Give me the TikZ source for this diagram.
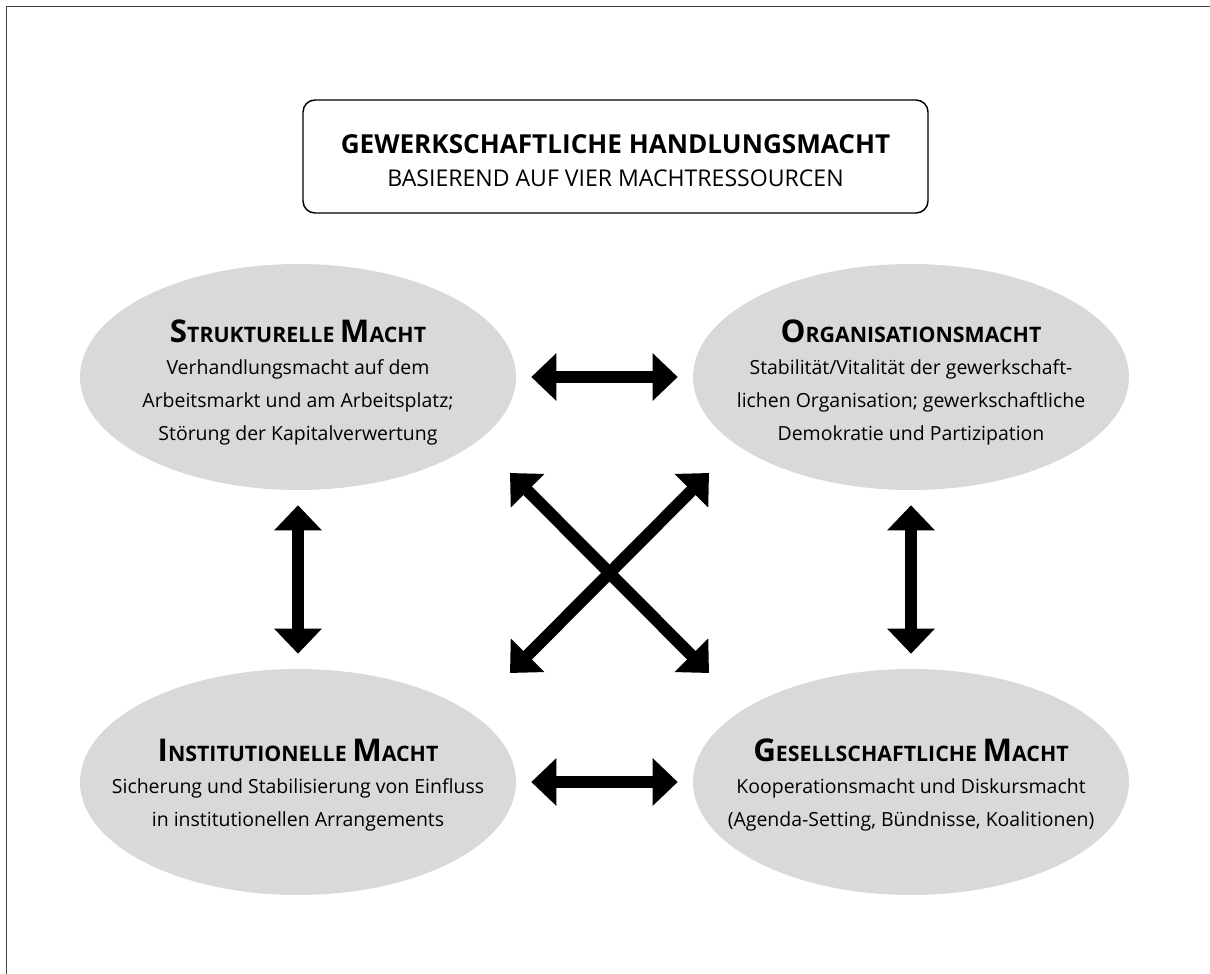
\documentclass[tikz,border=0pt]{standalone}
\usepackage{fontspec}
\setmainfont{Open Sans}
\usetikzlibrary{arrows.meta,shapes.geometric}
\definecolor{blobgray}{RGB}{217,217,217}
\newcommand{\SCbig}[1]{{\fontsize{23.5}{27}\selectfont #1}}
\newcommand{\SCsmall}[1]{{\fontsize{16}{19}\selectfont #1}}
\begin{document}
\begin{tikzpicture}[x=0.75pt,y=-0.75pt,
  blob/.style={ellipse, fill=blobgray, minimum width=327pt, minimum height=169.5pt, inner sep=0pt},
  ttl/.style={anchor=base, font=\bfseries\fontsize{16}{19}\selectfont, inner sep=0pt},
  body/.style={anchor=base, font=\fontsize{14.6}{17}\selectfont, inner sep=0pt},
  dblarrow/.style={line width=9pt, {Triangle[length=18.75pt,width=34.5pt]}-{Triangle[length=18.75pt,width=34.5pt]}},
  gap/.style={shorten >=11.25pt, shorten <=11.25pt}
]
\useasboundingbox (0,0) rectangle (1210,974);
% frame
\draw[line width=1pt, black!75] (6.5,974) -- (6.5,6.5) -- (1210,6.5);
% header
\node[draw, line width=1.1pt, rounded corners=9pt, minimum width=468.75pt, minimum height=84.75pt, inner sep=0pt] (head) at (615.5,156.5) {};
\node[anchor=base, inner sep=0pt, font=\bfseries\fontsize{19.6}{23}\selectfont] (headt) at (615.5,153) {GEWERKSCHAFTLICHE HANDLUNGSMACHT};
\node[anchor=base, inner sep=0pt, font=\fontsize{17.3}{21}\selectfont] (heads) at (615.5,186) {BASIEREND AUF VIER MACHTRESSOURCEN};
% ellipses
\node[blob] (tl) at (298,377) {};
\node[blob] (tr) at (911,377) {};
\node[blob] (bl) at (298,782) {};
\node[blob] (br) at (911,782) {};
% top-left text
\node[ttl] (tlt) at (298,342) {\SCbig{S}\SCsmall{TRUKTURELLE} \SCbig{M}\SCsmall{ACHT}};
\node[body] (tl1) at (298,374) {Verhandlungsmacht auf dem};
\node[body] (tl2) at (298,407) {Arbeitsmarkt und am Arbeitsplatz;};
\node[body] (tl3) at (298,440) {Störung der Kapitalverwertung};
% top-right text
\node[ttl] (trt) at (911,342) {\SCbig{O}\SCsmall{RGANISATIONSMACHT}};
\node[body] (tr1) at (911,374) {Stabilität/Vitalität der gewerkschaft-};
\node[body] (tr2) at (911,407) {lichen Organisation; gewerkschaftliche};
\node[body] (tr3) at (911,440) {Demokratie und Partizipation};
% bottom-left text
\node[ttl] (blt) at (298,761) {\SCbig{I}\SCsmall{NSTITUTIONELLE} \SCbig{M}\SCsmall{ACHT}};
\node[body] (bl1) at (298,793) {Sicherung und Stabilisierung von Einfluss};
\node[body] (bl2) at (298,826) {in institutionellen Arrangements};
% bottom-right text
\node[ttl] (brt) at (911,761) {\SCbig{G}\SCsmall{ESELLSCHAFTLICHE} \SCbig{M}\SCsmall{ACHT}};
\node[body] (br1) at (911,793) {Kooperationsmacht und Diskursmacht};
\node[body] (br2) at (911,826) {(Agenda-Setting, Bündnisse, Koalitionen)};
% arrows
\draw[dblarrow, gap] (tl) -- (tr);
\draw[dblarrow, gap] (bl) -- (br);
\draw[dblarrow, gap] (tl) -- (bl);
\draw[dblarrow, gap] (tr) -- (br);
\coordinate (nw) at (510,473);
\coordinate (ne) at (709,473);
\coordinate (sw) at (510,673);
\coordinate (se) at (709,673);
\draw[dblarrow] (nw) -- (se);
\draw[dblarrow] (ne) -- (sw);
\end{tikzpicture}
\end{document}
